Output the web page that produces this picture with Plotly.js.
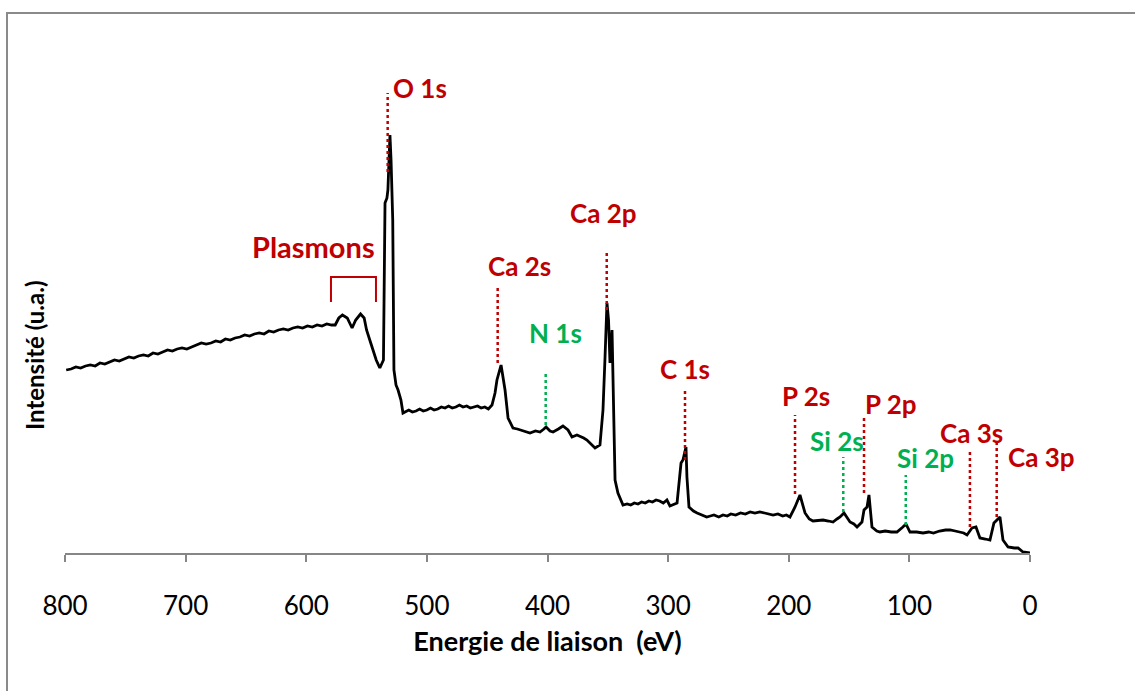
<!DOCTYPE html>
<html>
<head>
<meta charset="utf-8">
<script src="https://cdn.plot.ly/plotly-3.0.1.min.js"></script>
<style>
  html, body { margin: 0; padding: 0; background: #fff; overflow: hidden; }
  #wrap { position: relative; width: 1135px; height: 691px; overflow: hidden; }
  #chart { position: absolute; left: 0; top: 0; width: 1135px; height: 691px; }
  #frame { position: absolute; left: 6px; top: 12px; width: 2000px; height: 2000px;
           border-left: 2px solid #8a8a8a; border-top: 2px solid #8a8a8a; pointer-events: none; }
</style>
</head>
<body>
<div id="wrap"><div id="chart"></div><div id="frame"></div></div>
<script>
// Binding energy (eV) of the survey spectrum
const energy = [
  799, 795, 791, 787, 783, 779, 775, 771, 767, 763, 759, 755, 751, 747, 743, 739,
  735, 731, 727, 723, 719, 715, 711, 707, 703, 699, 695, 691, 687, 683, 679, 675,
  671, 667, 663, 659, 655, 651, 647, 643, 639, 635, 631, 627, 623, 619, 615, 611,
  607, 603, 599, 595, 591, 587, 583, 579, 576,
  573, 570, 566, 562, 559, 555, 552, 550, 546, 542, 539, 536, 534.7, 533.1,
  532.3, 530.6, 529.7, 528.3, 527.3, 525.6, 523.9, 521.5, 519.8, 518, 515, 512, 509,
  506, 503, 500, 497, 494, 491, 488, 485, 482, 479, 476, 473, 470, 467, 464, 461,
  458, 455, 452, 449, 446, 443.5, 441.9,
  438.5, 435.2, 432.7, 428.6, 425, 422.8, 418, 414.5, 410, 406.2, 403, 401.2, 397.9,
  395.4, 391, 387.2, 383, 379.7, 375.6, 373.1, 370, 367.3, 364, 360.6, 356.5, 354,
  352.3, 350.7, 349.4, 348.2, 346.5, 345.7, 344, 341.6, 337.4, 334, 331, 328, 325, 322,
  319, 316, 313, 310, 307, 304, 301, 298.5, 295, 292.6, 289.3, 287.7, 285.2, 284.4, 282.7, 279,
  276, 272, 268, 265, 262, 258, 254.5, 251, 248, 244, 240, 236, 232, 228, 224, 220,
  216, 213, 209, 205, 202, 199,
  194.8, 190.7, 186.5, 183, 179.9, 175, 171.6, 167, 163.3, 160, 157.5, 154.2, 149.2, 146, 143.4,
  139.3, 137.6, 135.1, 133.5, 131, 127, 124.4, 120, 115, 110.3, 105.4, 102.8, 99.5, 94, 88.7,
  84, 80, 75, 70, 66.3, 62, 58, 55, 52.2, 48.1, 44.8, 41.5, 37, 33.2, 29.9, 27.4, 24.9, 22.4,
  18.2, 13, 9.9, 5.8, 0
];
// Intensity (arbitrary units)
const intensity = [
  183, 184, 186, 185, 187, 188, 187, 190, 189, 191, 193, 192, 194, 196, 195, 197,
  198, 197, 200, 199, 201, 203, 202, 204, 205, 204, 206, 208, 210, 209, 210, 212,
  211, 214, 213, 215, 216, 218, 217, 219, 220, 219, 222, 221, 223, 224, 223, 225,
  226, 225, 227, 226, 228, 227, 229, 228, 228,
  235, 238, 235, 225, 233, 239, 235, 223, 208, 193, 185, 193, 350, 355,
  363, 418, 393, 333, 183, 168, 163, 153, 140, 141, 143, 141, 142,
  144, 142, 143, 145, 143, 144, 146, 145, 147, 145, 146, 148, 146, 147, 145, 146,
  147, 145, 146, 144, 148, 160, 173,
  188, 163, 135, 125, 124, 123, 121, 120, 122, 121, 124, 126, 122,
  121, 124, 127, 123, 116, 118, 117, 115, 113, 109, 105, 108, 143,
  196, 250, 233, 190, 223, 180, 73, 60, 48, 49, 48, 50, 49, 51,
  50, 52, 51, 53, 52, 50, 53, 47, 49, 50, 90, 93, 106, 76, 46, 42,
  40, 38, 36, 37, 38, 36, 38, 37, 39, 38, 40, 39, 41, 40, 41, 40,
  39, 38, 39, 37, 38, 36,
  46, 58, 40, 34, 32, 33, 33, 32, 31, 34, 36, 40, 31, 29, 26,
  31, 43, 46, 58, 26, 22, 21, 22, 21, 21, 26, 29, 21, 21, 20,
  21, 20, 22, 23, 23, 22, 21, 20, 18, 25, 26, 15, 14, 13, 30, 33, 36, 13,
  6, 5, 5, 1, 0
];

// Peak labels
const peakNames   = ["O 1s", "Ca 2s", "N 1s", "Ca 2p", "C 1s", "P 2s", "Si 2s", "P 2p", "Si 2p", "Ca 3s", "Ca 3p"];
const peakEnergy  = [532.5, 441.3, 401.5, 350.9, 286, 194.8, 154.8, 137.6, 103, 49.8, 27.6];
const peakGroup   = ["main", "main", "minor", "main", "main", "main", "minor", "main", "minor", "main", "main"];
const plasmonRange = [579.5, 542.2];
const plasmonLabel = "Plasmons";

// Layout helpers (positions of markers / labels, in axis units; label offsets in px)
const lineTop    = [460, 268, 180, 301, 163, 138, 96, 138, 78, 103, 111];
const lineBottom = [381, 190, 128, 243, 93, 59, 41, 60, 28, 26, 36];
const labelX     = [505.7, 423.6, 393.0, 353.2, 286, 185.7, 160, 115.2, 87, 48.1, 0];
const labelDX    = [0, 0, 0, 0, 0, 0, 0, 0, 0, 0, 11];
const labelY     = [465, 287, 220, 340, 184, 157, 112, 149, 95, 120, 96];

const RED = "#C00000", GREEN = "#00B050";
const FONT = "Lato, 'Open Sans', sans-serif";

const shapes = [];
const annotations = [];
peakNames.forEach((n, i) => {
  const c = peakGroup[i] === "main" ? RED : GREEN;
  shapes.push({type: "line", xref: "x", yref: "y", x0: peakEnergy[i], x1: peakEnergy[i],
               y0: lineBottom[i], y1: lineTop[i], line: {color: c, width: 2.5, dash: "dot"}});
  annotations.push({x: labelX[i], y: labelY[i], xshift: labelDX[i], xref: "x", yref: "y",
                    text: "<b>" + n + "</b>", showarrow: false,
                    font: {family: FONT, size: 26, color: c}});
});
// Plasmons bracket
shapes.push({type: "path", xref: "x", yref: "y",
  path: `M ${plasmonRange[0]},251 L ${plasmonRange[0]},276 L ${plasmonRange[1]},276 L ${plasmonRange[1]},251`,
  line: {color: RED, width: 2}});
annotations.push({x: 593.6, y: 307, xref: "x", yref: "y", text: "<b>" + plasmonLabel + "</b>",
                  showarrow: false, font: {family: FONT, size: 29, color: RED}});
// y-axis title (placed like the original, below the plot-area centre)
annotations.push({xref: "paper", yref: "paper", x: -0.031, y: 0.37, xanchor: "center", yanchor: "middle",
                  textangle: -90, text: "<b>Intensité (u.a.)</b>", showarrow: false,
                  font: {family: FONT, size: 24, color: "#000"}});

const trace = {
  x: energy, y: intensity, type: "scatter", mode: "lines",
  line: {color: "#000", width: 2.8, shape: "linear"}, hoverinfo: "skip"
};

const layout = {
  width: 1135, height: 691,
  margin: {l: 65, r: 105, t: 20, b: 138},
  paper_bgcolor: "#fff", plot_bgcolor: "#fff",
  showlegend: false,
  font: {family: FONT, color: "#000"},
  xaxis: {
    range: [800, 0], tick0: 0, dtick: 100, ticks: "outside", ticklen: 7, tickwidth: 2,
    tickcolor: "#868686", showline: true, linecolor: "#868686", linewidth: 2,
    showgrid: false, zeroline: false, ticklabelstandoff: 22,
    tickfont: {family: FONT, size: 26, color: "#000"},
    title: {text: "<b>Energie de liaison\u00a0 (eV)</b>", font: {family: FONT, size: 27, color: "#000"}, standoff: 12}
  },
  yaxis: {
    range: [0, 533], showticklabels: false, ticks: "", showline: false, showgrid: false, zeroline: false
  },
  shapes: shapes,
  annotations: annotations
};

Plotly.newPlot("chart", [trace], layout, {displayModeBar: false, staticPlot: true});
</script>
</body>
</html>
